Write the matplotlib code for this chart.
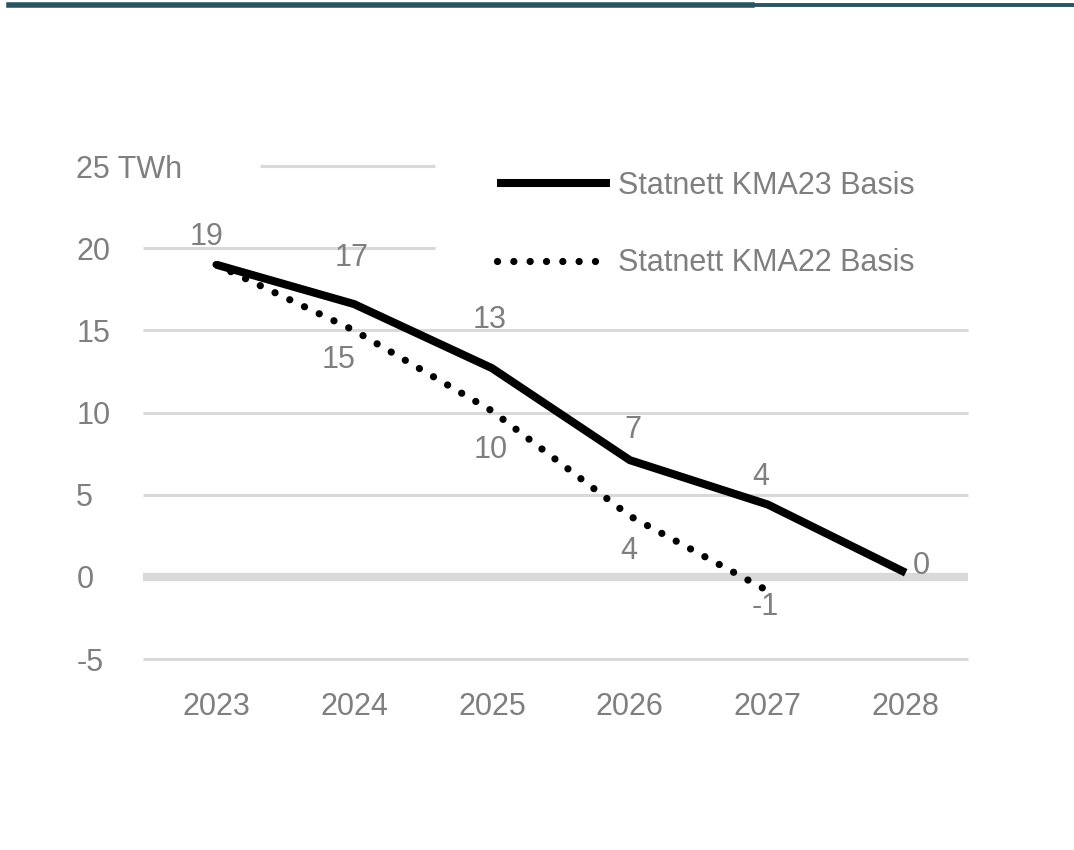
import matplotlib.pyplot as plt
from matplotlib.lines import Line2D

years = ['2023', '2024', '2025', '2026', '2027', '2028']
kma23 = [19.0, 16.6, 12.7, 7.1, 4.4, 0.25]
kma23_labels = ['19', '17', '13', '7', '4', '0']
kma22 = [19.0, 15.0, 10.1, 3.7, -0.85]
kma22_labels = ['', '15', '10', '4', '-1']
yticks = [-5, 0, 5, 10, 15, 20, 25]
ytick_labels = ['-5', '0', '5', '10', '15', '20', '25 TWh']

grey = '#7f7f7f'
grid = '#d9d9d9'
plt.rcParams['font.family'] = ['Liberation Sans', 'DejaVu Sans']
fs = 22

fig = plt.figure(figsize=(10.74, 8.5), dpi=100)
# dark band at the top of the page
fig.add_artist(Line2D([0.008, 0.70], [0.9945, 0.9945], color='#2a5461', lw=4.0))
fig.add_artist(Line2D([0.70, 1.0], [0.9945, 0.9945], color='#2a5461', lw=2.8))

ax = fig.add_axes([0.1331, 0.2247, 0.768, 0.58])
x = list(range(len(years)))

# gridlines; the top two are partly hidden by the label and the legend
gl = dict(color=grid, zorder=0, clip_on=False, solid_capstyle='butt')
for v in yticks:
    if v == 0:
        ax.axhline(v, lw=6, **gl)
    elif v == 25:
        ax.axhline(v, xmin=0.142, xmax=0.354, lw=2.2, **gl)
    elif v == 20:
        ax.axhline(v, xmax=0.354, lw=2.2, **gl)
    else:
        ax.axhline(v, lw=2.2, **gl)

ax.plot(x[:len(kma22)], kma22, color='black', lw=5.2, linestyle=(0, (0.01, 2.25)),
        dash_capstyle='round', label='Statnett KMA22 Basis', zorder=3)
ax.plot(x, kma23, color='black', lw=5.8, solid_capstyle='butt',
        label='Statnett KMA23 Basis', zorder=4)

off23 = [(-7, 20), (-2, 33), (-2, 35), (2, 22), (-5, 20), (5, 5)]
for i, (v, t) in enumerate(zip(kma23, kma23_labels)):
    ha = 'left' if i == len(kma23) - 1 else 'center'
    ax.annotate(t, (x[i], v), xytext=off23[i], textcoords='offset points',
                ha=ha, va='center', color=grey, fontsize=fs, zorder=5)
off22 = [(0, 0), (-11, -21), (-1, -28), (-1, -25), (-2, -12)]
for i, (v, t) in enumerate(zip(kma22, kma22_labels)):
    if t:
        ax.annotate(t, (x[i], v), xytext=off22[i], textcoords='offset points',
                    ha='center', va='center', color=grey, fontsize=fs, zorder=5)

ax.set_xlim(-0.53, 5.45)
ax.set_ylim(-5, 25)
ax.set_xticks(x)
ax.set_xticklabels(years)
ax.set_yticks(yticks)
ax.set_yticklabels(ytick_labels)
for lab in ax.get_yticklabels():
    lab.set_horizontalalignment('left')
ax.tick_params(axis='y', length=0, pad=48, labelsize=fs, colors=grey)
ax.tick_params(axis='x', length=0, pad=24, labelsize=fs, colors=grey)
for s in ax.spines.values():
    s.set_visible(False)

handles, labels = ax.get_legend_handles_labels()
leg = ax.legend(handles[::-1], labels[::-1], loc='upper left',
                bbox_to_anchor=(0.429, 0.99), frameon=False, fontsize=fs,
                handlelength=3.7, handletextpad=0.26, labelspacing=1.55,
                borderpad=0, borderaxespad=0)
for t in leg.get_texts():
    t.set_color(grey)

fig.savefig('out.png', dpi=100)
